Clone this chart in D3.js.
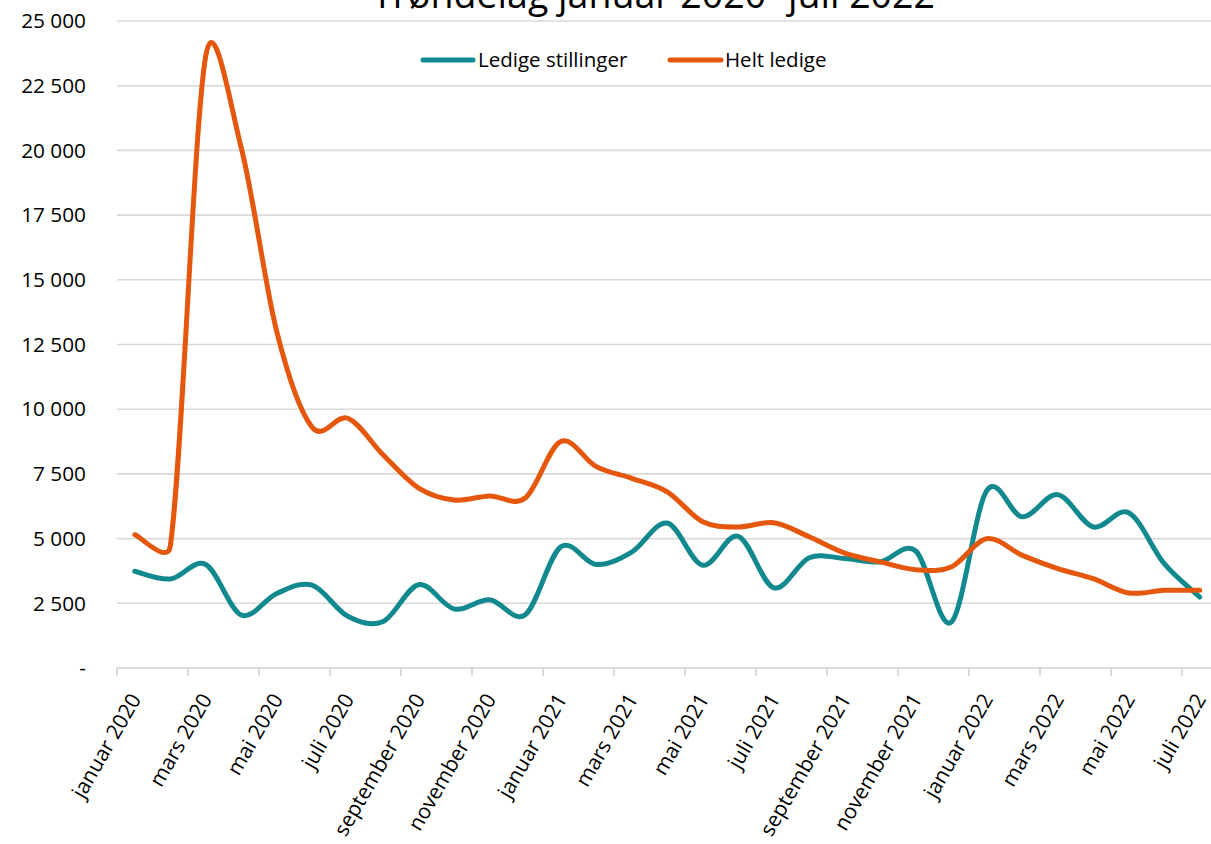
<!DOCTYPE html>
<html>
<head>
<meta charset="utf-8">
<script src="https://cdn.jsdelivr.net/npm/d3@7"></script>
<style>
  html, body { margin: 0; padding: 0; background: #ffffff; }
  svg { display: block; font-family: "Open Sans", sans-serif; }
</style>
</head>
<body>
<svg id="chart" width="1211" height="844"></svg>
<script>
const titleText = "Trøndelag januar 2020- juli 2022";
const months = [
  "januar 2020","februar 2020","mars 2020","april 2020","mai 2020","juni 2020",
  "juli 2020","august 2020","september 2020","oktober 2020","november 2020","desember 2020",
  "januar 2021","februar 2021","mars 2021","april 2021","mai 2021","juni 2021",
  "juli 2021","august 2021","september 2021","oktober 2021","november 2021","desember 2021",
  "januar 2022","februar 2022","mars 2022","april 2022","mai 2022","juni 2022","juli 2022"
];
const seriesNames = ["Ledige stillinger", "Helt ledige"];
const ledigeStillinger = [
  3740, 3440, 4000, 2050, 2880, 3200, 2000, 1800, 3220, 2280, 2640, 2060,
  4680, 4000, 4480, 5600, 3970, 5090, 3100, 4260, 4230, 4100, 4520, 1770,
  6850, 5840, 6700, 5450, 6000, 4030, 2740
];
const heltLedige = [
  5150, 4700, 23650, 20100, 13000, 9300, 9650, 8230, 6950, 6490, 6650, 6570,
  8750, 7780, 7330, 6810, 5650, 5450, 5610, 5070, 4440, 4100, 3800, 3900,
  5000, 4350, 3840, 3450, 2900, 3000, 3000
];
const yTicks = [0, 2500, 5000, 7500, 10000, 12500, 15000, 17500, 20000, 22500, 25000];

const colors = ["#12898e", "#e4570c"];
const svg = d3.select("#chart");

const x = d3.scaleBand().domain(months).range([117, 1217.5]).paddingInner(0).paddingOuter(0);
const y = d3.scaleLinear().domain([0, 25000]).range([668, 21]);
const cx = d => x(d) + x.bandwidth() / 2;

const loc = d3.formatLocale({decimal: ",", thousands: " ", grouping: [3], currency: ["", " kr"]});
const fmt = v => v === 0 ? "-" : loc.format(",d")(v);

// Excel-style smoothed line (Bezier with limited control handles)
function smoothPath(pts) {
  const p = d3.path();
  const dist = (a, b) => Math.hypot(b[0] - a[0], b[1] - a[1]);
  p.moveTo(pts[0][0], pts[0][1]);
  for (let i = 0; i < pts.length - 1; i++) {
    const p0 = pts[Math.max(0, i - 1)], p1 = pts[i], p2 = pts[i + 1], p3 = pts[Math.min(pts.length - 1, i + 2)];
    const d12 = dist(p1, p2), d02 = dist(p0, p2), d13 = dist(p1, p3);
    let f0 = 1 / 6, f1 = 1 / 6;
    if (d02 / 6 >= d12 / 2 && d02 > 0) f0 = d12 / (2 * d02);
    if (d13 / 6 >= d12 / 2 && d13 > 0) f1 = d12 / (2 * d13);
    const c1 = [p1[0] + (p2[0] - p0[0]) * f0, p1[1] + (p2[1] - p0[1]) * f0];
    const c2 = [p2[0] - (p3[0] - p1[0]) * f1, p2[1] - (p3[1] - p1[1]) * f1];
    p.bezierCurveTo(c1[0], c1[1], c2[0], c2[1], p2[0], p2[1]);
  }
  return p.toString();
}

// gridlines
svg.append("g").selectAll("line").data(yTicks.filter(t => t > 0)).join("line")
  .attr("x1", 117).attr("x2", 1218)
  .attr("y1", d => y(d)).attr("y2", d => y(d))
  .attr("stroke", "#d9d9d9").attr("stroke-width", 1.6);

// y labels
svg.append("g").selectAll("text").data(yTicks).join("text")
  .attr("x", 86).attr("y", d => y(d)).attr("dy", "0.35em")
  .attr("text-anchor", "end").attr("font-size", 20.8).attr("fill", "#000")
  .text(fmt);

// x axis line + ticks
const xAxisG = svg.append("g");
xAxisG.append("line").attr("x1", 117).attr("x2", 1218).attr("y1", y(0)).attr("y2", y(0))
  .attr("stroke", "#d0d0d0").attr("stroke-width", 1.6);
const tickCats = months.filter((d, i) => i % 2 === 0);
xAxisG.selectAll("line.tick").data(tickCats).join("line").attr("class", "tick")
  .attr("x1", d => x(d)).attr("x2", d => x(d))
  .attr("y1", y(0)).attr("y2", y(0) + 8)
  .attr("stroke", "#d0d0d0").attr("stroke-width", 1.6);
xAxisG.selectAll("text").data(tickCats).join("text")
  .attr("transform", d => `translate(${cx(d) + 7},${y(0) + 31}) rotate(-60)`)
  .attr("text-anchor", "end").attr("font-size", 21).attr("fill", "#000")
  .text(d => d);

// lines
[ledigeStillinger, heltLedige].forEach((s, k) => {
  const pts = s.map((v, i) => [cx(months[i]), y(v)]);
  svg.append("path").attr("d", smoothPath(pts))
    .attr("fill", "none").attr("stroke", colors[k]).attr("stroke-width", 5)
    .attr("stroke-linejoin", "round").attr("stroke-linecap", "round");
});

// legend
const legend = [
  {name: seriesNames[0], color: colors[0], x1: 423, x2: 473, tx: 478},
  {name: seriesNames[1], color: colors[1], x1: 670, x2: 721, tx: 725}
];
legend.forEach(l => {
  svg.append("line").attr("x1", l.x1).attr("x2", l.x2).attr("y1", 60).attr("y2", 60)
    .attr("stroke", l.color).attr("stroke-width", 5).attr("stroke-linecap", "round");
  svg.append("text").attr("x", l.tx).attr("y", 60).attr("dy", "0.35em")
    .attr("font-size", 20.5).attr("fill", "#000").text(l.name);
});

// title (cut off at top like the reference)
svg.append("text").attr("x", 372).attr("y", 8)
  .attr("font-size", 38).attr("fill", "#000")
  .attr("textLength", 563).attr("lengthAdjust", "spacingAndGlyphs")
  .text(titleText);
</script>
</body>
</html>
